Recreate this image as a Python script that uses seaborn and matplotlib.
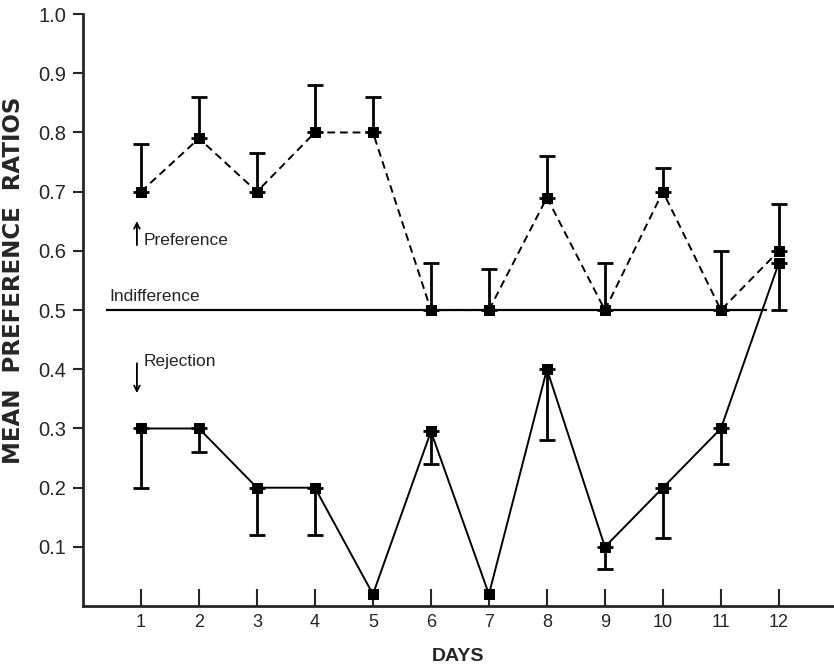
import numpy as np
import pandas as pd
import matplotlib.pyplot as plt
import seaborn as sns

days = list(range(1, 13))
pref_mean = [0.70, 0.79, 0.70, 0.80, 0.80, 0.50, 0.50, 0.69, 0.50, 0.70, 0.50, 0.60]
pref_upper = [0.78, 0.86, 0.765, 0.88, 0.86, 0.58, 0.57, 0.76, 0.58, 0.74, 0.60, 0.68]
rej_mean = [0.30, 0.30, 0.20, 0.20, 0.02, 0.295, 0.02, 0.40, 0.10, 0.20, 0.30, 0.58]
rej_lower = [0.20, 0.26, 0.12, 0.12, 0.02, 0.24, 0.02, 0.28, 0.063, 0.115, 0.24, 0.50]
y_ticks = [0.1, 0.2, 0.3, 0.4, 0.5, 0.6, 0.7, 0.8, 0.9, 1.0]


def main():
    sns.set_style('ticks')
    plt.rcParams['font.family'] = ['Liberation Sans', 'DejaVu Sans']

    df = pd.DataFrame({
        'day': days * 2,
        'ratio': pref_mean + rej_mean,
        'series': ['pref'] * 12 + ['rej'] * 12,
    })

    fig = plt.figure(figsize=(8.34, 6.69), dpi=100)
    ax = fig.add_axes([0.0995, 0.094, 0.9005, 0.885])

    sns.lineplot(
        data=df, x='day', y='ratio', style='series',
        dashes={'pref': (4, 2.5), 'rej': ''},
        markers={'pref': 's', 'rej': 's'},
        color='black', markersize=7, markeredgecolor='black',
        linewidth=1.4, legend=False, ax=ax
    )

    # one sided error bars
    pm = np.array(pref_mean)
    pu = np.array(pref_upper)
    ax.errorbar(days, pm, yerr=[np.zeros(12), pu - pm], fmt='none',
                ecolor='black', elinewidth=2, capsize=6, capthick=2)
    rm = np.array(rej_mean)
    rl = np.array(rej_lower)
    keep = rm - rl > 0.001
    ax.errorbar(np.array(days)[keep], rm[keep],
                yerr=[(rm - rl)[keep], np.zeros(keep.sum())], fmt='none',
                ecolor='black', elinewidth=2, capsize=6, capthick=2)

    ax.hlines(0.5, 0.4, 11.8, color='black', linewidth=1.6)
    ax.text(0.45, 0.51, 'Indifference', fontsize=12.5, va='bottom', ha='left')
    ax.text(1.05, 0.605, 'Preference', fontsize=12.5, va='bottom', ha='left')
    ax.text(1.05, 0.40, 'Rejection', fontsize=12.5, va='bottom', ha='left')
    ax.annotate('', xy=(0.93, 0.655), xytext=(0.93, 0.605),
                arrowprops=dict(arrowstyle='->', color='black', lw=1.3))
    ax.annotate('', xy=(0.93, 0.355), xytext=(0.93, 0.415),
                arrowprops=dict(arrowstyle='->', color='black', lw=1.3))

    ax.set_xlim(0, 12.95)
    ax.set_ylim(0, 1.0)
    ax.set_xticks(days)
    ax.set_xticklabels([str(d) for d in days], fontsize=13)
    ax.set_yticks(y_ticks)
    ax.set_yticklabels([f'{t:.1f}' for t in y_ticks], fontsize=14.5)
    ax.tick_params(axis='x', direction='in', length=12, width=1.5, pad=6)
    ax.tick_params(axis='y', direction='out', length=7, width=1.5, pad=5)

    ax.set_xlabel('DAYS', fontsize=14, fontweight='bold', labelpad=12)
    ax.set_ylabel('MEAN  PREFERENCE  RATIOS', fontsize=16.5, fontweight='bold',
                  family=['DejaVu Sans'])
    ax.yaxis.set_label_coords(-0.077, 0.55)

    sns.despine(ax=ax)
    for side in ['left', 'bottom']:
        ax.spines[side].set_linewidth(2)

    fig.savefig('out.png', dpi=100)
    plt.close(fig)


if __name__ == '__main__':
    main()
